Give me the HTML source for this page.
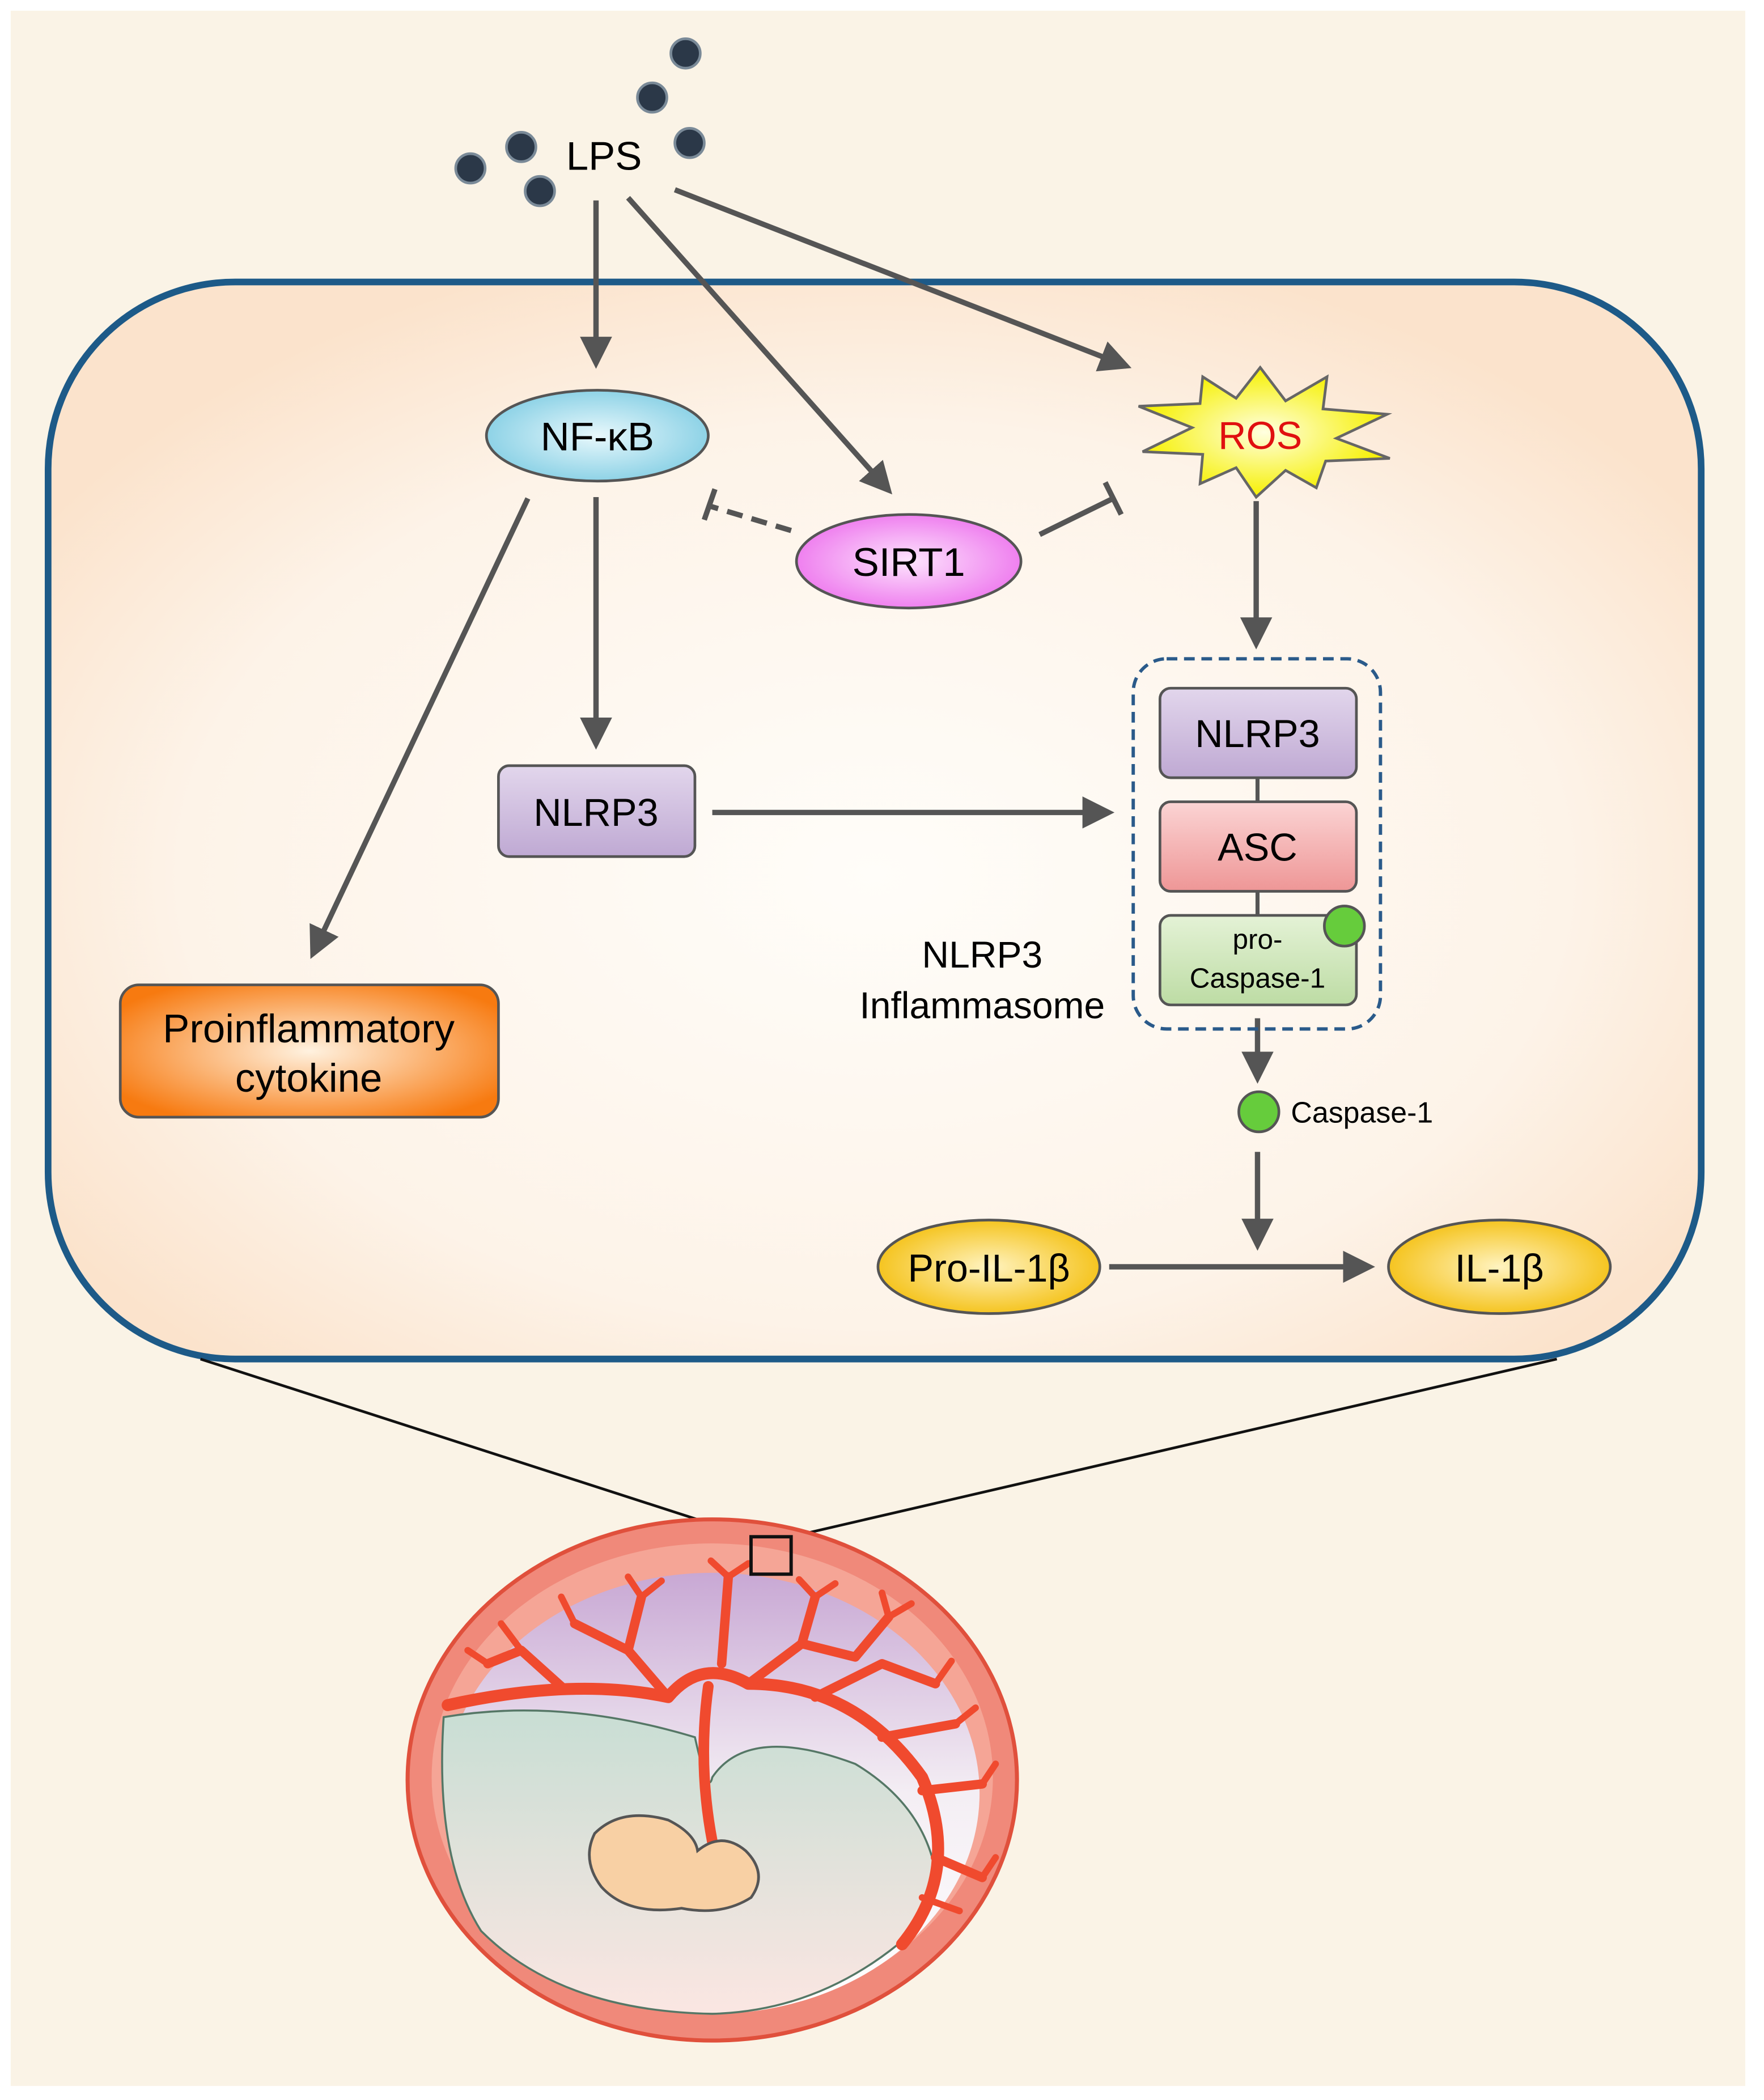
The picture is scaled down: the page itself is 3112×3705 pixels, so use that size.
<!DOCTYPE html>
<html><head><meta charset="utf-8"><style>
html,body{margin:0;padding:0;background:#fff}
svg{display:block}
text{font-family:"Liberation Sans",sans-serif}
</style></head><body>
<svg width="3112" height="3705" viewBox="0 0 1320 1571.5" preserveAspectRatio="none" xmlns="http://www.w3.org/2000/svg">
<defs>
<radialGradient id="cell" cx="0.5" cy="0.55" r="0.6"><stop offset="0" stop-color="#fffdf9"/><stop offset="0.7" stop-color="#fdf3e8"/><stop offset="1" stop-color="#fbe3cc"/></radialGradient>
<radialGradient id="blue" cx="0.5" cy="0.5" r="0.6"><stop offset="0" stop-color="#e8f8fc"/><stop offset="1" stop-color="#7ccbe2"/></radialGradient>
<radialGradient id="mag" cx="0.5" cy="0.5" r="0.6"><stop offset="0" stop-color="#fde4fd"/><stop offset="1" stop-color="#ec6cec"/></radialGradient>
<radialGradient id="yel" cx="0.5" cy="0.5" r="0.6"><stop offset="0" stop-color="#fff3c0"/><stop offset="1" stop-color="#f3bb00"/></radialGradient>
<radialGradient id="ros" cx="0.5" cy="0.5" r="0.5"><stop offset="0" stop-color="#ffffe0"/><stop offset="1" stop-color="#f6f000"/></radialGradient>
<linearGradient id="pur" x1="0" y1="0" x2="0" y2="1"><stop offset="0" stop-color="#e2d6ec"/><stop offset="1" stop-color="#bfa9d3"/></linearGradient>
<linearGradient id="pink" x1="0" y1="0" x2="0" y2="1"><stop offset="0" stop-color="#fbd4d4"/><stop offset="1" stop-color="#ee9696"/></linearGradient>
<linearGradient id="grn" x1="0" y1="0" x2="0" y2="1"><stop offset="0" stop-color="#e4f2d6"/><stop offset="1" stop-color="#bddca4"/></linearGradient>
<radialGradient id="org" cx="0.5" cy="0.5" r="0.6"><stop offset="0" stop-color="#fff2e0"/><stop offset="1" stop-color="#f77a10"/></radialGradient>
<linearGradient id="inner" x1="0" y1="0" x2="0" y2="1"><stop offset="0" stop-color="#c8a8d4"/><stop offset="0.5" stop-color="#f4eef4"/><stop offset="1" stop-color="#fff"/></linearGradient>
<linearGradient id="sac" x1="0" y1="0" x2="0" y2="1"><stop offset="0" stop-color="#c8ded4"/><stop offset="1" stop-color="#fbe6e2"/></linearGradient>
<marker id="ah" markerWidth="6" markerHeight="6" refX="5" refY="3" orient="auto" markerUnits="strokeWidth"><path d="M0,0 L6,3 L0,6 z" fill="#555"/></marker>
</defs>
<rect x="0" y="0" width="1320" height="1571.5" fill="#fff"/>
<rect x="8" y="8" width="1298" height="1553" fill="#faf3e6"/>
<rect x="36" y="211" width="1237" height="806" rx="140" fill="url(#cell)" stroke="#1d5a88" stroke-width="5"/>

<g fill="#2b3848" stroke="#7a8a98" stroke-width="2">
<circle cx="352" cy="126" r="11"/><circle cx="390" cy="110" r="11"/><circle cx="404" cy="143" r="11"/>
<circle cx="488" cy="73" r="11"/><circle cx="513" cy="40" r="11"/><circle cx="516" cy="107" r="11"/></g>
<text x="452" y="127" font-size="30" text-anchor="middle">LPS</text>

<g stroke="#555" stroke-width="4" fill="none">
<line x1="446" y1="150" x2="446" y2="272" marker-end="url(#ah)"/>
<line x1="470" y1="148" x2="665" y2="367" marker-end="url(#ah)"/>
<line x1="505" y1="142" x2="843" y2="274" marker-end="url(#ah)"/>
<line x1="940" y1="375" x2="940" y2="482" marker-end="url(#ah)"/>
<line x1="446" y1="372" x2="446" y2="557" marker-end="url(#ah)"/>
<line x1="533" y1="608" x2="830" y2="608" marker-end="url(#ah)"/>
<line x1="395" y1="373" x2="234" y2="714" marker-end="url(#ah)"/>
<line x1="941" y1="762" x2="941" y2="807" marker-end="url(#ah)"/>
<line x1="941" y1="862" x2="941" y2="932" marker-end="url(#ah)"/>
<line x1="830" y1="948" x2="1025" y2="948" marker-end="url(#ah)"/>
<line x1="592" y1="397" x2="532" y2="379" stroke-dasharray="12,7"/>
<line x1="527" y1="389" x2="535" y2="366"/>
<line x1="778" y1="400" x2="833" y2="373"/>
<line x1="827" y1="361" x2="839" y2="385"/>
</g>

<ellipse cx="447" cy="326" rx="83" ry="34" fill="url(#blue)" stroke="#555" stroke-width="2"/>
<text x="447" y="337" font-size="30" text-anchor="middle">NF-κB</text>
<ellipse cx="680" cy="420" rx="84" ry="35" fill="url(#mag)" stroke="#555" stroke-width="2"/>
<text x="680" y="431" font-size="30" text-anchor="middle">SIRT1</text>

<polygon points="943,275 962,300 993,282 990,306 1038,310 1000,328 1040,343 992,345 985,365 962,352 940,372 925,350 898,362 900,340 855,338 892,320 852,304 898,302 900,282 925,298" fill="url(#ros)" stroke="#666" stroke-width="2"/>
<text x="943" y="336" font-size="29" text-anchor="middle" fill="#e01010">ROS</text>

<rect x="848" y="493" width="185" height="277" rx="25" fill="none" stroke="#2a5a8a" stroke-width="2.5" stroke-dasharray="8,5"/>
<line x1="941" y1="582" x2="941" y2="600" stroke="#555" stroke-width="3"/>
<line x1="941" y1="667" x2="941" y2="685" stroke="#555" stroke-width="3"/>
<rect x="868" y="515" width="147" height="67" rx="8" fill="url(#pur)" stroke="#555" stroke-width="2"/>
<text x="941" y="559" font-size="29" text-anchor="middle">NLRP3</text>
<rect x="868" y="600" width="147" height="67" rx="8" fill="url(#pink)" stroke="#555" stroke-width="2"/>
<text x="941" y="644" font-size="29" text-anchor="middle">ASC</text>
<rect x="868" y="685" width="147" height="67" rx="8" fill="url(#grn)" stroke="#555" stroke-width="2"/>
<text x="941" y="710" font-size="21" text-anchor="middle">pro-</text>
<text x="941" y="739" font-size="21" text-anchor="middle">Caspase-1</text>
<circle cx="1006" cy="693" r="15" fill="#66cc3c" stroke="#555" stroke-width="2"/>
<text x="735" y="724" font-size="28" text-anchor="middle">NLRP3</text>
<text x="735" y="762" font-size="28" text-anchor="middle">Inflammasome</text>

<rect x="373" y="573" width="147" height="68" rx="8" fill="url(#pur)" stroke="#555" stroke-width="2"/>
<text x="446" y="618" font-size="29" text-anchor="middle">NLRP3</text>

<rect x="90" y="737" width="283" height="99" rx="14" fill="url(#org)" stroke="#555" stroke-width="2"/>
<text x="231" y="780" font-size="30" text-anchor="middle">Proinflammatory</text>
<text x="231" y="817" font-size="30" text-anchor="middle">cytokine</text>

<circle cx="942" cy="832" r="15" fill="#66cc3c" stroke="#555" stroke-width="2"/>
<text x="966" y="840" font-size="22">Caspase-1</text>

<ellipse cx="740" cy="948" rx="83" ry="35" fill="url(#yel)" stroke="#555" stroke-width="2"/>
<text x="740" y="959" font-size="29" text-anchor="middle">Pro-IL-1β</text>
<ellipse cx="1122" cy="948" rx="83" ry="35" fill="url(#yel)" stroke="#555" stroke-width="2"/>
<text x="1122" y="959" font-size="29" text-anchor="middle">IL-1β</text>

<line x1="150" y1="1017" x2="562" y2="1150" stroke="#111" stroke-width="2"/>
<line x1="1165" y1="1017" x2="592" y2="1150" stroke="#111" stroke-width="2"/>

<ellipse cx="533" cy="1332" rx="228" ry="195" fill="#f0897a" stroke="#e0503c" stroke-width="3"/>
<ellipse cx="533" cy="1330" rx="210" ry="175" fill="#f5a596"/>
<ellipse cx="533" cy="1342" rx="200" ry="165" fill="url(#inner)"/>
<path d="M332,1285 Q420,1270 520,1300 Q530,1345 533,1330 Q560,1290 640,1320 Q690,1350 700,1400 Q690,1440 672,1455 Q610,1505 533,1507 Q420,1505 360,1445 Q325,1390 332,1285 z" fill="url(#sac)" stroke="#557766" stroke-width="1.5"/>
<g fill="none" stroke="#f04a2e" stroke-linecap="round" stroke-linejoin="round">
<path d="M335,1276 Q430,1255 500,1270 Q525,1240 560,1260 Q640,1260 690,1330 Q720,1400 675,1455" stroke-width="9"/>
<path d="M530,1262 Q522,1320 533,1378" stroke-width="8"/>
<path d="M500,1270 L470,1235 L430,1215 M560,1260 L600,1230 L640,1240 M610,1270 L660,1245 L700,1260 M660,1300 L715,1290 M690,1340 L735,1335 M700,1390 L735,1405 M420,1262 L390,1235 L365,1245 M470,1235 L480,1195 M540,1245 L545,1180 M600,1230 L610,1195 M640,1240 L665,1210" stroke-width="7"/>
<path d="M390,1235 L375,1215 M365,1245 L350,1235 M430,1215 L420,1195 M480,1195 L470,1180 M480,1195 L495,1183 M545,1180 L532,1168 M545,1180 L560,1170 M610,1195 L598,1182 M610,1195 L625,1185 M665,1210 L660,1192 M665,1210 L682,1200 M700,1260 L712,1243 M715,1290 L730,1278 M735,1335 L745,1320 M735,1405 L745,1390 M690,1420 L718,1430" stroke-width="5"/>
</g>
<path d="M445,1372 Q465,1352 500,1362 Q520,1372 522,1385 Q540,1370 558,1385 Q575,1402 562,1420 Q540,1434 510,1428 Q470,1434 450,1412 Q435,1392 445,1372 z" fill="#f8d0a4" stroke="#555" stroke-width="2"/>
<rect x="562" y="1150" width="30" height="28" fill="none" stroke="#111" stroke-width="2.5"/>
</svg>
</body></html>
